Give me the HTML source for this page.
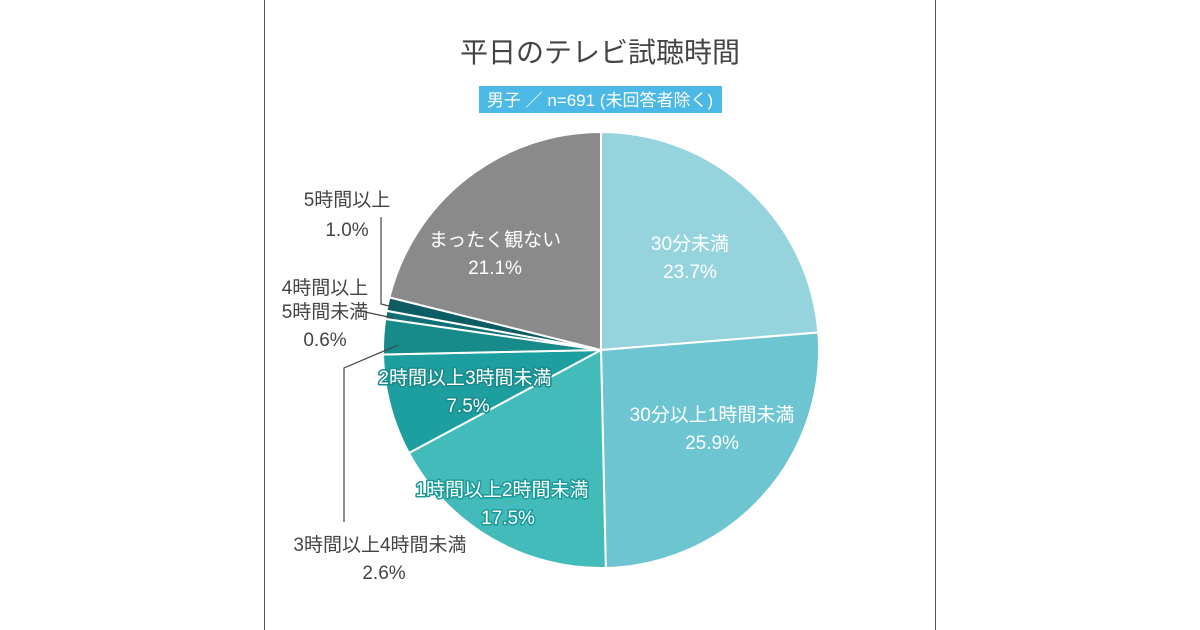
<!DOCTYPE html>
<html><head><meta charset="utf-8"><style>
body{margin:0;background:#fff;}
svg{display:block;font-family:"Liberation Sans","Noto Sans CJK JP",sans-serif;}
</style></head><body>
<svg width="1200" height="630" viewBox="0 0 1200 630">
<rect x="264.5" y="-1" width="671" height="632" fill="#fff" stroke="#555" stroke-width="1"/>
<text x="600" y="62" text-anchor="middle" font-size="28" fill="#444">平日のテレビ試聴時間</text>
<rect x="479" y="86" width="243" height="27" fill="#4cb8e6"/>
<text x="600" y="106" text-anchor="middle" font-size="17" fill="#fff">男子 ／ n=691 (未回答者除く)</text>
<g id="slices"></g>
<g id="leaders" stroke="#444" stroke-width="1.2" fill="none">
<polyline points="393,307 381,304 381,217"/>
<polyline points="393,318 356,310"/>
<polyline points="398,345 344,368 344,522"/>
</g>
<g id="labels" font-size="19"></g>
</svg>
<script>
const categories=["30分未満","30分以上1時間未満","1時間以上2時間未満","2時間以上3時間未満","3時間以上4時間未満","4時間以上5時間未満","5時間以上","まったく観ない"];
const values=[23.7,25.9,17.5,7.5,2.6,0.6,1.0,21.1];
const valueLabels=["23.7%","25.9%","17.5%","7.5%","2.6%","0.6%","1.0%","21.1%"];
const colors=["#96d4dd","#6cc5d0","#44bbbb","#1d9f9f","#178a8a","#0f7075","#0c5d63","#8a8a8a"];
const cx=601,cy=350,r=218;
const total=values.reduce((a,b)=>a+b,0);
const ns="http://www.w3.org/2000/svg";
const g=document.getElementById('slices');
function pt(a,rr){return [cx+rr*Math.sin(a),cy-rr*Math.cos(a)];}
let acc=0;
values.forEach((v,i)=>{
 const a0=acc/total*2*Math.PI;acc+=v;const a1=acc/total*2*Math.PI;
 const p0=pt(a0,r),p1=pt(a1,r);
 const p=document.createElementNS(ns,'path');
 p.setAttribute('d',`M${cx},${cy} L${p0[0]},${p0[1]} A${r},${r} 0 ${a1-a0>Math.PI?1:0} 1 ${p1[0]},${p1[1]} Z`);
 p.setAttribute('fill',colors[i]);p.setAttribute('stroke','#fff');p.setAttribute('stroke-width','2');
 
 
 g.appendChild(p);
});
const L=document.getElementById('labels');
function txt(x,y,s,fill,anchor,outline,name){
 const t=document.createElementNS(ns,'text');
 t.setAttribute('x',x);t.setAttribute('y',y);t.setAttribute('fill',fill);t.setAttribute('text-anchor',anchor);
 if(outline){t.setAttribute('stroke',outline);t.setAttribute('stroke-width','3');t.setAttribute('paint-order','stroke');t.setAttribute('stroke-linejoin','round');}
 t.textContent=s;
 
 
 L.appendChild(t);
}
const lab=[
 [690,250,690,278,'#fff','middle',null],
 [712,421,712,449,'#fff','middle',null],
 [502,496,508,524,'#fff','middle','#1a9a9a'],
 [465,384,468,412,'#fff','middle','#1a8a8a'],
 [380,551,384,579,'#444','middle',null],
 [325,302,325,344,'#444','middle',null],
 [347,206,347,236,'#444','middle',null],
 [495,246,495,274,'#fff','middle',null]
];
lab.forEach((l,i)=>{
 if(i===5){
  txt(l[0],294,'4時間以上','#444','middle',null,'label-name-'+i);
  txt(l[0],318,'5時間未満','#444','middle',null,'label-name-'+i+'-b');
  txt(l[0],346,valueLabels[i],'#444','middle',null,'label-value-'+i);
  return;
 }
 txt(l[0],l[1],categories[i],l[4],l[5],l[6],'label-name-'+i);
 txt(l[2],l[3],valueLabels[i],l[4],l[5],l[6],'label-value-'+i);
});
</script>
</body></html>
